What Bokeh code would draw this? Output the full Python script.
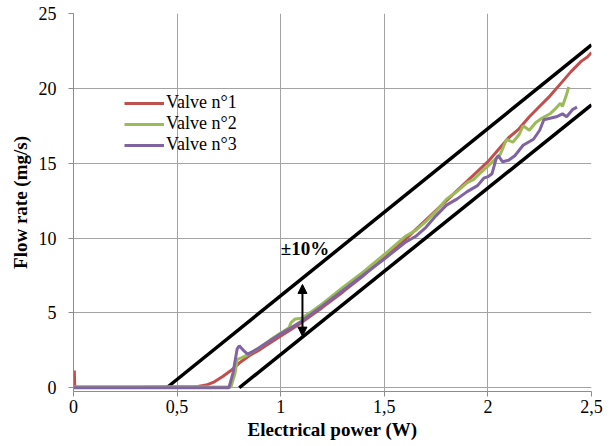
from bokeh.plotting import figure
from bokeh.models import Range1d, FixedTicker, Arrow, NormalHead, Label, Legend
from bokeh.core.properties import value
from bokeh.embed import file_html
from bokeh.resources import INLINE

# ---- data ----
x_ticks = [0, 0.5, 1, 1.5, 2, 2.5]
x_tick_labels = ["0", "0,5", "1", "1,5", "2", "2,5"]
y_ticks = [0, 5, 10, 15, 20, 25]

valve1_x = [0.004, 0.006, 0.012, 0.3, 0.6, 0.64, 0.68, 0.72, 0.76, 0.8, 0.85, 0.9, 0.95,
            1.0, 1.05, 1.1, 1.2, 1.3, 1.4, 1.5, 1.6, 1.7, 1.8, 1.9, 2.0, 2.05, 2.1,
            2.15, 2.2, 2.25, 2.3, 2.35, 2.4, 2.45, 2.48, 2.5]
valve1_y = [1.15, 0.1, 0.05, 0.05, 0.08, 0.18, 0.4, 0.75, 1.15, 1.65, 2.15, 2.55, 3.0,
            3.45, 3.9, 4.35, 5.35, 6.4, 7.5, 8.7, 9.9, 11.2, 12.5, 13.8, 15.1, 15.9, 16.7,
            17.3, 18.1, 18.8, 19.5, 20.3, 21.1, 21.8, 22.1, 22.4]

valve2_x = [0.0, 0.76, 0.78, 0.79, 0.81, 0.84, 0.9, 0.95, 1.0, 1.04, 1.05, 1.07, 1.1,
            1.15, 1.2, 1.3, 1.4, 1.5, 1.6, 1.65, 1.7, 1.75, 1.8, 1.85, 1.9, 1.93, 1.96,
            2.0, 2.03, 2.06, 2.09, 2.12, 2.15, 2.17, 2.2, 2.23, 2.26, 2.3, 2.33, 2.35,
            2.36, 2.38, 2.39]
valve2_y = [0.05, 0.05, 1.0, 1.9, 2.0, 2.2, 2.7, 3.2, 3.65, 4.0, 4.35, 4.6, 4.65,
            5.1, 5.6, 6.7, 7.75, 8.9, 10.1, 10.5, 11.1, 11.8, 12.6, 13.1, 13.7, 13.9, 14.3,
            14.8, 15.2, 15.6, 16.6, 16.4, 16.9, 17.5, 17.2, 17.7, 18.0, 18.3, 18.7, 19.0,
            18.8, 19.6, 20.1]

valve3_x = [0.0, 0.75, 0.77, 0.79, 0.80, 0.82, 0.84, 0.87, 0.9, 0.95, 1.0, 1.05, 1.1,
            1.2, 1.3, 1.4, 1.5, 1.6, 1.65, 1.7, 1.75, 1.8, 1.85, 1.9, 1.95, 1.98, 2.0,
            2.02, 2.04, 2.05, 2.07, 2.1, 2.13, 2.17, 2.22, 2.25, 2.27, 2.3, 2.33, 2.36,
            2.38, 2.41, 2.43]
valve3_y = [0.0, 0.0, 1.0, 2.6, 2.8, 2.5, 2.25, 2.45, 2.7, 3.15, 3.6, 4.0, 4.45,
            5.45, 6.5, 7.55, 8.6, 9.7, 10.1, 10.7, 11.5, 12.2, 12.6, 13.1, 13.5, 14.0, 14.1,
            14.3, 15.3, 15.5, 15.1, 15.2, 15.5, 16.2, 16.6, 17.2, 17.9, 18.0, 18.1, 18.3,
            18.1, 18.6, 18.75]

band_upper_x = [0.45, 2.5]
band_upper_y = [0.0, 22.9]
band_lower_x = [0.80, 2.5]
band_lower_y = [0.0, 18.9]

arrow_x = 1.105
arrow_y = [3.45, 6.9]
band_label = "±10%"
band_label_pos = (1.0, 9.3)

SERIF = "Liberation Serif"

p = figure(width=613, height=446, output_backend="svg", toolbar_location=None,
           x_range=Range1d(0, 2.5), y_range=Range1d(-0.25, 25),
           min_border_left=73, min_border_right=22, min_border_top=13,
           min_border_bottom=55)
p.outline_line_color = None
p.background_fill_color = "white"
p.border_fill_color = "white"

for g in (p.xgrid, p.ygrid):
    g.grid_line_color = "#a3a3a3"
    g.grid_line_width = 1
p.xgrid.ticker = FixedTicker(ticks=x_ticks)
p.ygrid.ticker = FixedTicker(ticks=y_ticks)

p.xaxis.ticker = FixedTicker(ticks=x_ticks)
p.xaxis.major_label_overrides = {t: l for t, l in zip(x_ticks, x_tick_labels)}
p.yaxis.ticker = FixedTicker(ticks=y_ticks)

for ax in (p.xaxis, p.yaxis):
    ax.axis_line_color = "#8c8c8c"
    ax.major_tick_line_color = "#8c8c8c"
    ax.major_tick_in = 0
    ax.major_tick_out = 5
    ax.minor_tick_line_color = None
    ax.major_label_text_font = SERIF
    ax.major_label_text_font_size = "18px"
    ax.major_label_text_color = "black"
    ax.axis_label_text_font = SERIF
    ax.axis_label_text_font_size = "19px"
    ax.axis_label_text_font_style = "bold"
    ax.axis_label_text_color = "black"

p.xaxis.axis_label = "Electrical power (W)"
p.yaxis.axis_label = "Flow rate (mg/s)"
p.xaxis.major_label_standoff = 3
p.xaxis.axis_label_standoff = 3
p.yaxis.major_label_standoff = 12
p.yaxis.axis_label_standoff = 5

# tolerance band lines
p.line(band_upper_x, band_upper_y, line_color="black", line_width=3.5)
p.line(band_lower_x, band_lower_y, line_color="black", line_width=3.5)

r1 = p.line(valve1_x, valve1_y, line_color="#c0504d", line_width=3)
r2 = p.line(valve2_x, valve2_y, line_color="#9bbb59", line_width=3)
r3 = p.line(valve3_x, valve3_y, line_color="#8064a2", line_width=3)

p.add_layout(Arrow(start=NormalHead(size=9, fill_color="black", line_color="black"),
                   end=NormalHead(size=9, fill_color="black", line_color="black"),
                   x_start=arrow_x, y_start=arrow_y[0], x_end=arrow_x, y_end=arrow_y[1],
                   line_width=2, line_color="black"))

p.add_layout(Label(x=band_label_pos[0], y=band_label_pos[1], text=band_label,
                   text_font=SERIF, text_font_style="bold", text_font_size="19px",
                   text_baseline="middle", text_color="black"))

legend = Legend(items=[("Valve n°1", [r1]), ("Valve n°2", [r2]), ("Valve n°3", [r3])],
                location=(51, 236), orientation="vertical")
legend.background_fill_alpha = 0
legend.border_line_color = None
legend.padding = 0
legend.margin = 0
legend.spacing = 0
legend.glyph_width = 40
legend.glyph_height = 18
legend.label_height = 18
legend.label_standoff = 2
legend.label_text_font = SERIF
legend.label_text_font_size = "18px"
legend.label_text_line_height = 1.0
legend.label_text_color = "black"
p.add_layout(legend, "center")

open("out.html", "w").write(file_html(p, INLINE))
